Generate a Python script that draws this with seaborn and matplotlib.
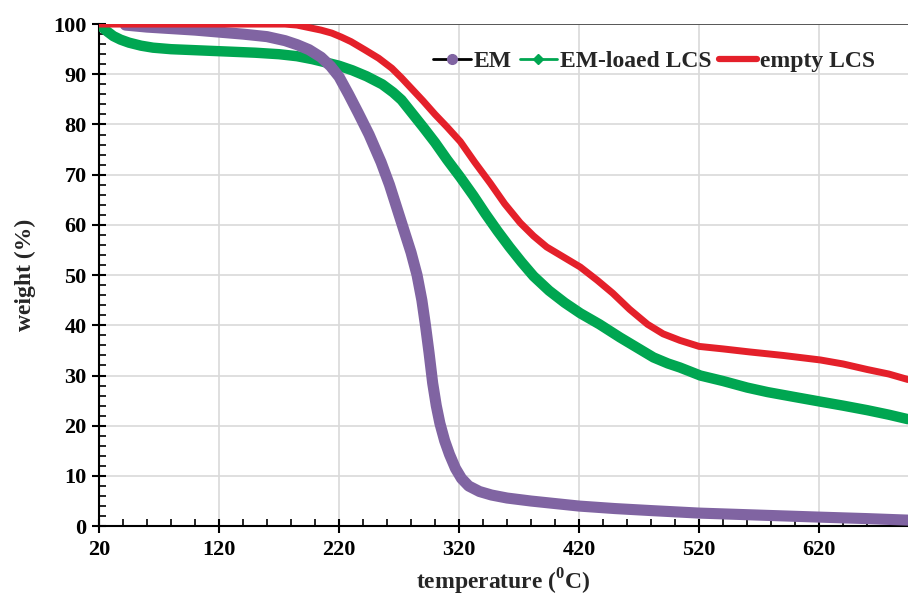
import numpy as np
import pandas as pd
import matplotlib.pyplot as plt
import seaborn as sns
from matplotlib.lines import Line2D
from matplotlib.ticker import MultipleLocator

sns.set_style("white")
plt.rcParams['font.family'] = ['Liberation Serif', 'DejaVu Serif']
plt.rcParams['font.weight'] = 'bold'
plt.rcParams['mathtext.fontset'] = 'custom'
plt.rcParams['mathtext.rm'] = 'Liberation Serif:bold'
plt.rcParams['mathtext.bf'] = 'Liberation Serif:bold'

# TGA curves
em_temp = [42, 60, 80, 100, 120, 140, 160, 175, 185, 195, 205, 213, 220, 228, 236, 245,
           255, 262, 268, 274, 280, 285, 289, 292, 295, 298, 301, 304, 308, 312, 317, 322,
           328, 337, 347, 360, 380, 400, 420, 450, 480, 520, 570, 620, 660, 694]
em_weight = [99.8, 99.4, 99.1, 98.8, 98.4, 98.0, 97.5, 96.7, 95.9, 94.9, 93.4, 91.6, 89.5,
             86.0, 82.3, 78.0, 72.5, 68.0, 63.5, 59.0, 54.5, 50.0, 45.0, 40.0, 34.5, 28.5,
             24.0, 20.5, 17.0, 14.3, 11.5, 9.5, 8.0, 6.9, 6.2, 5.6, 5.0, 4.5, 4.0, 3.5, 3.1,
             2.6, 2.2, 1.8, 1.5, 1.2]

loaded_temp = [20, 23, 27, 32, 38, 45, 55, 65, 80, 100, 120, 150, 170, 185, 198, 210, 220,
               231, 243, 256, 265, 272, 280, 290, 300, 310, 321, 332, 342, 352, 362, 372,
               382, 395, 408, 421, 437, 454, 468, 482, 494, 504, 521, 540, 560, 577, 600,
               621, 640, 660, 678, 694]
loaded_weight = [100.0, 99.3, 98.5, 97.6, 96.9, 96.3, 95.7, 95.3, 95.0, 94.8, 94.6, 94.3,
                 94.0, 93.6, 93.0, 92.3, 91.7, 90.8, 89.6, 88.0, 86.4, 84.9, 82.5, 79.5,
                 76.4, 73.0, 69.5, 65.8, 62.2, 58.8, 55.6, 52.6, 49.8, 46.9, 44.5, 42.4,
                 40.2, 37.6, 35.6, 33.6, 32.4, 31.6, 30.0, 28.9, 27.6, 26.7, 25.7, 24.8,
                 24.0, 23.1, 22.2, 21.3]

empty_temp = [20, 120, 175, 185, 195, 205, 214, 222, 230, 242, 253, 264, 272, 281, 290,
              300, 310, 321, 333, 346, 358, 371, 382, 393, 407, 421, 435, 448, 462, 477,
              490, 504, 520, 540, 562, 590, 621, 640, 660, 678, 694]
empty_weight = [100.0, 100.0, 100.0, 99.8, 99.3, 98.8, 98.2, 97.4, 96.5, 94.8, 93.2, 91.2,
                89.3, 87.0, 84.7, 82.0, 79.5, 76.6, 72.5, 68.3, 64.2, 60.4, 57.8, 55.6,
                53.6, 51.6, 49.0, 46.4, 43.2, 40.2, 38.3, 37.0, 35.8, 35.3, 34.7, 34.0,
                33.1, 32.3, 31.2, 30.3, 29.2]

series_names = ['EM', 'EM-loaed LCS', 'empty LCS']
series_colors = ['#8064A2', '#00A651', '#E4202A']

df = pd.concat([
    pd.DataFrame({'temperature': em_temp, 'weight': em_weight, 'sample': series_names[0]}),
    pd.DataFrame({'temperature': loaded_temp, 'weight': loaded_weight, 'sample': series_names[1]}),
    pd.DataFrame({'temperature': empty_temp, 'weight': empty_weight, 'sample': series_names[2]}),
])

fig = plt.figure(figsize=(9.08, 6.02), dpi=100)
ax = fig.add_axes([0.109, 0.126, 0.891, 0.834])

ax.grid(True, color='#d9d9d9', linewidth=1.2)
ax.set_axisbelow(True)
ax.axhline(100, color='#404040', linewidth=1.2, zorder=1)

widths = {'EM': 8.0, 'EM-loaed LCS': 7.5, 'empty LCS': 5.0}
for name in ['EM-loaed LCS', 'EM', 'empty LCS']:
    sub = df[df['sample'] == name]
    sns.lineplot(data=sub, x='temperature', y='weight', ax=ax, sort=False,
                 color=series_colors[series_names.index(name)],
                 linewidth=widths[name], solid_capstyle='round', solid_joinstyle='round',
                 legend=False, zorder=3)

ax.set_xlim(20, 694)
ax.set_ylim(0, 100)
ax.xaxis.set_minor_locator(MultipleLocator(20))
ax.yaxis.set_major_locator(MultipleLocator(10))
ax.yaxis.set_minor_locator(MultipleLocator(2))
ax.set_xticks(np.arange(20, 694, 100))

ax.tick_params(axis='both', which='both', bottom=True, left=True, colors='black')
ax.tick_params(axis='both', which='major', direction='inout', length=10, width=1.5,
               labelsize=16)
ax.tick_params(axis='x', which='major', pad=5)
ax.tick_params(axis='y', which='major', pad=4)
ax.tick_params(axis='both', which='minor', direction='in', length=5, width=1.2)
for lab in ax.get_xticklabels() + ax.get_yticklabels():
    lab.set_fontweight('bold')

for side in ['top', 'right']:
    ax.spines[side].set_visible(False)
for side in ['left', 'bottom']:
    ax.spines[side].set_color('black')
    ax.spines[side].set_linewidth(1.5)

ax.set_xlabel(r'temperature ($^{\mathbf{0}}$C)', fontsize=17, fontweight='bold', labelpad=5)
ax.set_ylabel('weight (%)', fontsize=17, fontweight='bold', labelpad=12)

handles = [
    Line2D([], [], color='black', linewidth=2, marker='o', markersize=7,
           markerfacecolor=series_colors[0], markeredgecolor=series_colors[0]),
    Line2D([], [], color=series_colors[1], linewidth=2, marker='D', markersize=5,
           markerfacecolor=series_colors[1], markeredgecolor=series_colors[1]),
    Line2D([], [], color=series_colors[2], linewidth=4.5, marker='.', markersize=3,
           markerfacecolor=series_colors[2], markeredgecolor=series_colors[2]),
]
ax.legend(handles, series_names, loc='center right', bbox_to_anchor=(0.985, 0.925),
          ncol=3, frameon=False, handlelength=1.6, handletextpad=0.1, columnspacing=0.35,
          prop={'family': 'Liberation Serif', 'weight': 'bold', 'size': 17})

fig.savefig('out.png', dpi=100)
